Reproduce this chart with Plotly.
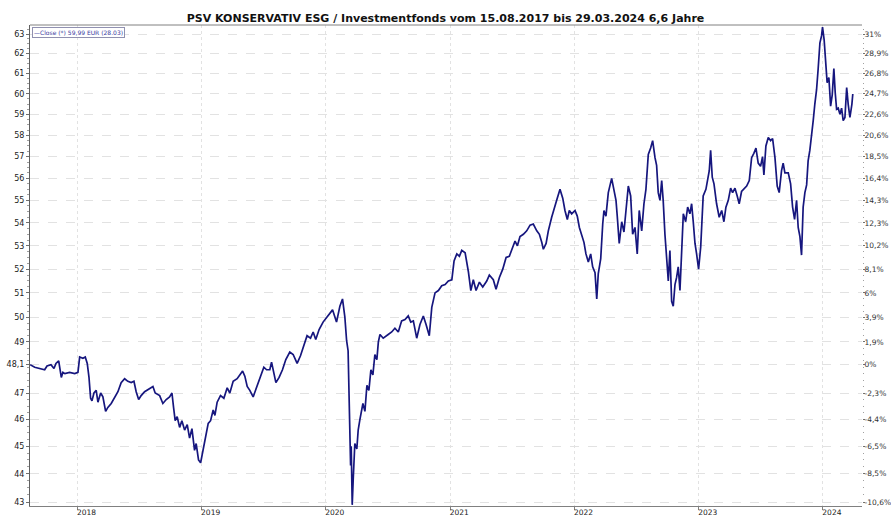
import plotly.graph_objects as go
from datetime import datetime
import math

# ---- data (decimal year, price in EUR) ----
years = [
    2017.619, 2017.656, 2017.736, 2017.755, 2017.787, 2017.811, 2017.827, 2017.849, 2017.870, 2017.883,
    2017.899, 2017.937, 2017.978, 2018.004, 2018.018, 2018.044, 2018.063, 2018.079, 2018.093, 2018.106,
    2018.117, 2018.133, 2018.151, 2018.165, 2018.187, 2018.205, 2018.227, 2018.245, 2018.272, 2018.304,
    2018.326, 2018.352, 2018.380, 2018.406, 2018.433, 2018.455, 2018.473, 2018.493, 2018.513, 2018.541,
    2018.573, 2018.608, 2018.626, 2018.662, 2018.688, 2018.715, 2018.742, 2018.761, 2018.774, 2018.787,
    2018.803, 2018.823, 2018.841, 2018.863, 2018.884, 2018.903, 2018.922, 2018.943, 2018.956, 2018.975,
    2018.992, 2019.012, 2019.034, 2019.053, 2019.072, 2019.093, 2019.107, 2019.125, 2019.152, 2019.179,
    2019.206, 2019.227, 2019.254, 2019.286, 2019.330, 2019.348, 2019.367, 2019.388, 2019.415, 2019.442,
    2019.474, 2019.501, 2019.523, 2019.549, 2019.563, 2019.581, 2019.598, 2019.624, 2019.651, 2019.678,
    2019.710, 2019.737, 2019.769, 2019.796, 2019.817, 2019.849, 2019.877, 2019.898, 2019.919, 2019.946,
    2019.978, 2020.018, 2020.054, 2020.086, 2020.113, 2020.134, 2020.153, 2020.167, 2020.179, 2020.187,
    2020.193, 2020.199, 2020.204, 2020.212, 2020.220, 2020.233, 2020.249, 2020.260, 2020.274, 2020.298,
    2020.314, 2020.330, 2020.346, 2020.362, 2020.378, 2020.394, 2020.410, 2020.422, 2020.435, 2020.461,
    2020.501, 2020.529, 2020.555, 2020.582, 2020.609, 2020.636, 2020.662, 2020.682, 2020.703, 2020.730,
    2020.756, 2020.783, 2020.805, 2020.831, 2020.851, 2020.877, 2020.904, 2020.931, 2020.958, 2020.984,
    2021.012, 2021.030, 2021.052, 2021.073, 2021.092, 2021.119, 2021.145, 2021.165, 2021.185, 2021.207,
    2021.234, 2021.261, 2021.293, 2021.314, 2021.346, 2021.368, 2021.395, 2021.422, 2021.449, 2021.475,
    2021.503, 2021.521, 2021.540, 2021.561, 2021.588, 2021.615, 2021.642, 2021.668, 2021.696, 2021.717,
    2021.736, 2021.749, 2021.771, 2021.789, 2021.816, 2021.843, 2021.861, 2021.883, 2021.905, 2021.923,
    2021.942, 2021.958, 2021.977, 2022.004, 2022.022, 2022.039, 2022.058, 2022.076, 2022.092, 2022.111,
    2022.130, 2022.146, 2022.165, 2022.179, 2022.191, 2022.211, 2022.227, 2022.237, 2022.253, 2022.272,
    2022.299, 2022.318, 2022.334, 2022.344, 2022.360, 2022.380, 2022.398, 2022.433, 2022.452, 2022.468,
    2022.487, 2022.505, 2022.521, 2022.541, 2022.559, 2022.575, 2022.594, 2022.613, 2022.629, 2022.648,
    2022.661, 2022.674, 2022.688, 2022.702, 2022.714, 2022.728, 2022.742, 2022.755, 2022.768, 2022.782,
    2022.795, 2022.809, 2022.822, 2022.835, 2022.849, 2022.863, 2022.876, 2022.895, 2022.911, 2022.929,
    2022.943, 2022.956, 2022.970, 2022.983, 2022.999, 2023.016, 2023.036, 2023.058, 2023.072, 2023.085,
    2023.096, 2023.109, 2023.123, 2023.144, 2023.165, 2023.185, 2023.203, 2023.219, 2023.238, 2023.257,
    2023.273, 2023.292, 2023.310, 2023.326, 2023.345, 2023.364, 2023.386, 2023.407, 2023.426, 2023.444,
    2023.461, 2023.479, 2023.498, 2023.514, 2023.525, 2023.541, 2023.560, 2023.579, 2023.595, 2023.614,
    2023.632, 2023.648, 2023.667, 2023.680, 2023.694, 2023.721, 2023.740, 2023.756, 2023.772, 2023.788,
    2023.801, 2023.815, 2023.828, 2023.841, 2023.855, 2023.869, 2023.881, 2023.895, 2023.909, 2023.922,
    2023.935, 2023.949, 2023.962, 2023.976, 2023.989, 2023.997, 2024.010, 2024.022, 2024.034, 2024.048,
    2024.062, 2024.075, 2024.088, 2024.099, 2024.110, 2024.123, 2024.137, 2024.150, 2024.163, 2024.177,
    2024.191, 2024.203, 2024.217, 2024.233, 2024.240,
]

prices = [
    48.10, 48.00, 47.90, 48.05, 48.10, 47.95, 48.15, 48.25, 47.60, 47.80,
    47.75, 47.80, 47.75, 47.80, 48.40, 48.35, 48.40, 48.15, 47.60, 46.80,
    46.70, 47.00, 47.10, 46.65, 47.00, 46.85, 46.30, 46.45, 46.60, 46.90,
    47.05, 47.40, 47.55, 47.45, 47.40, 47.45, 47.05, 46.75, 46.90, 47.05,
    47.15, 47.25, 47.00, 46.90, 46.60, 46.75, 46.85, 47.00, 46.45, 45.95,
    46.10, 45.70, 45.95, 45.60, 45.80, 45.30, 45.65, 44.85, 45.10, 44.50,
    44.40, 44.85, 45.35, 45.85, 45.95, 46.35, 46.15, 46.65, 46.90, 46.80,
    47.20, 47.00, 47.45, 47.55, 47.85, 47.65, 47.25, 47.10, 46.85, 47.20,
    47.65, 48.00, 47.90, 47.90, 48.20, 47.80, 47.40, 47.60, 47.90, 48.30,
    48.60, 48.50, 48.15, 48.45, 48.75, 49.25, 49.15, 49.40, 49.10, 49.50,
    49.80, 50.05, 50.30, 49.80, 50.45, 50.75, 50.00, 49.05, 48.65, 46.85,
    45.85, 44.30, 45.00, 42.90, 43.80, 45.10, 44.90, 45.60, 46.00, 46.60,
    46.30, 47.30, 47.10, 47.90, 47.70, 48.50, 48.30, 49.00, 49.30, 49.15,
    49.30, 49.40, 49.55, 49.40, 49.85, 49.90, 50.05, 49.80, 49.85, 49.15,
    49.70, 50.05, 49.70, 49.25, 50.40, 51.00, 51.10, 51.30, 51.35, 51.50,
    51.55, 52.35, 52.65, 52.55, 52.80, 52.70, 51.90, 51.10, 51.55, 51.10,
    51.45, 51.25, 51.50, 51.75, 51.55, 51.15, 51.65, 52.00, 52.50, 52.55,
    52.95, 53.20, 53.00, 53.40, 53.50, 53.65, 53.90, 53.95, 53.65, 53.50,
    53.15, 52.85, 53.10, 53.65, 54.25, 54.70, 55.10, 55.50, 55.10, 54.55,
    54.15, 54.55, 54.40, 54.55, 54.30, 53.80, 53.40, 53.15, 52.65, 52.30,
    52.65, 52.10, 51.85, 50.75, 51.80, 52.45, 53.95, 54.55, 54.30, 55.35,
    56.00, 55.35, 55.00, 54.30, 53.10, 54.05, 53.60, 55.65, 55.20, 53.50,
    53.80, 52.65, 54.55, 53.65, 54.85, 55.50, 57.10, 57.40, 57.75, 56.95,
    56.60, 55.35, 55.00, 55.90, 55.00, 53.50, 52.45, 51.50, 52.80, 50.65,
    50.45, 51.35, 51.65, 52.10, 51.10, 53.25, 54.40, 54.05, 54.70, 54.40,
    54.85, 54.05, 53.10, 52.65, 52.00, 52.95, 55.20, 55.50, 55.90, 56.35,
    57.30, 56.05, 55.75, 54.85, 54.25, 54.55, 54.05, 54.70, 55.00, 55.55,
    55.35, 55.55, 55.20, 54.85, 55.40, 55.50, 55.65, 55.90, 56.95, 57.15,
    57.40, 56.70, 56.55, 57.00, 56.15, 57.50, 57.90, 57.75, 57.85, 56.95,
    55.65, 55.35, 56.35, 56.70, 56.25, 56.25, 55.75, 54.70, 54.15, 55.00,
    53.80, 53.40, 52.60, 54.70, 55.35, 55.70, 56.80, 57.30, 57.90, 58.70,
    59.50, 60.20, 61.25, 62.55, 62.90, 63.35, 62.70, 61.70, 60.55, 60.80,
    59.40, 59.95, 61.25, 60.05, 59.25, 59.30, 59.00, 59.30, 58.70, 58.85,
    60.30, 59.50, 58.85, 59.50, 59.99,
]

left_tick_values = [43, 44, 45, 46, 47, 48.1, 49, 50, 51, 52, 53, 54, 55, 56, 57, 58, 59, 60, 61, 62, 63]
left_tick_labels = ["43", "44", "45", "46", "47", "48,1", "49", "50", "51", "52", "53", "54", "55",
                    "56", "57", "58", "59", "60", "61", "62", "63"]
right_tick_labels = ["-10,6%", "-8,5%", "-6,5%", "-4,4%", "-2,3%", "0%", "1,9%", "3,9%", "6%", "8,1%",
                     "10,2%", "12,3%", "14,3%", "16,4%", "18,5%", "20,6%", "22,6%", "24,7%", "26,8%",
                     "28,9%", "31%"]
year_ticks = ["2018-01-01", "2019-01-01", "2020-01-01", "2021-01-01", "2022-01-01", "2023-01-01", "2024-01-01"]
year_labels = ["2018", "2019", "2020", "2021", "2022", "2023", "2024"]

title_text = "PSV KONSERVATIV ESG / Investmentfonds vom 15.08.2017 bis 29.03.2024 6,6 Jahre"
legend_text = "\u2014Close (*) 59,99 EUR (28.03)"


def yr2dt(t):
    y = int(math.floor(t))
    a = datetime(y, 1, 1)
    b = datetime(y + 1, 1, 1)
    return a + (b - a) * (t - y)


dates = [yr2dt(t) for t in years]

LINE = "#16167e"
GRID = "#e2e2e2"
FONT = "DejaVu Sans"

yrange = [1.63205, 1.80253]
xrange = [yr2dt(2017.618), yr2dt(2024.314)]

minor_vals = [43 + 0.25 * i for i in range(0, 82)]

fig = go.Figure()
fig.add_trace(go.Scatter(x=dates, y=prices, mode="lines",
                         line=dict(color=LINE, width=1.7), showlegend=False,
                         hoverinfo="x+y"))
fig.add_trace(go.Scatter(x=dates, y=prices, mode="lines", yaxis="y2",
                         line=dict(color="rgba(0,0,0,0)", width=0), showlegend=False,
                         hoverinfo="skip"))

fig.update_layout(
    width=891, height=517,
    template="none",
    paper_bgcolor="white", plot_bgcolor="white",
    margin=dict(l=30, r=29, t=25, b=11),
    title=dict(text="<b>" + title_text + "</b>", x=0.5, xanchor="center", y=0.965, yanchor="middle",
               font=dict(family=FONT, size=11, color="#111111")),
    xaxis=dict(type="date", range=xrange, tickmode="array", tickvals=year_ticks, ticktext=year_labels,
               showgrid=True, gridcolor=GRID, griddash="dot", gridwidth=1,
               showline=True, linecolor="#808080", linewidth=1,
               ticks="outside", ticklen=3, tickcolor="#808080", ticklabelshift=9,
               ticklabelstandoff=-4,
               tickfont=dict(family=FONT, size=7.5, color="#222222"),
               zeroline=False, automargin=False, fixedrange=True),
    yaxis=dict(type="log", range=yrange, tickmode="array", tickvals=left_tick_values, ticktext=left_tick_labels,
               showgrid=True, gridcolor=GRID, griddash="dash", gridwidth=1,
               showline=True, linecolor="#606060", linewidth=1,
               ticks="outside", ticklen=3, tickcolor="#707070",
               tickfont=dict(family=FONT, size=8, color="#222222"),
               minor=dict(tickvals=minor_vals, ticks="outside", ticklen=2, tickcolor="#a0a0a0", showgrid=False),
               zeroline=False, automargin=False, fixedrange=True),
    yaxis2=dict(type="log", range=yrange, overlaying="y", side="right", anchor="x",
                tickmode="array", tickvals=left_tick_values, ticktext=right_tick_labels,
                showgrid=False, showline=False,
                ticks="outside", ticklen=2, tickcolor="#707070", ticklabelstandoff=-2,
                minor=dict(tickvals=minor_vals, ticks="outside", ticklen=1, tickcolor="#a0a0a0", showgrid=False),
                tickfont=dict(family=FONT, size=7.5, color="#333333"),
                zeroline=False, automargin=False, fixedrange=True),
    shapes=[dict(type="line", xref="paper", yref="paper", x0=0, x1=1, y0=1, y1=1,
                 line=dict(color="#808080", width=1))],
    annotations=[dict(text=legend_text, xref="paper", yref="paper", x=0.002, y=0.996,
                      xanchor="left", yanchor="top", showarrow=False,
                      font=dict(family=FONT, size=6, color="#3a3aa0"),
                      bordercolor="#9090b0", borderwidth=1, borderpad=1, bgcolor="white")],
)

fig.write_html("out.html", config={"displayModeBar": False},
               post_script="document.body.style.margin='0';document.body.style.overflow='hidden';")
